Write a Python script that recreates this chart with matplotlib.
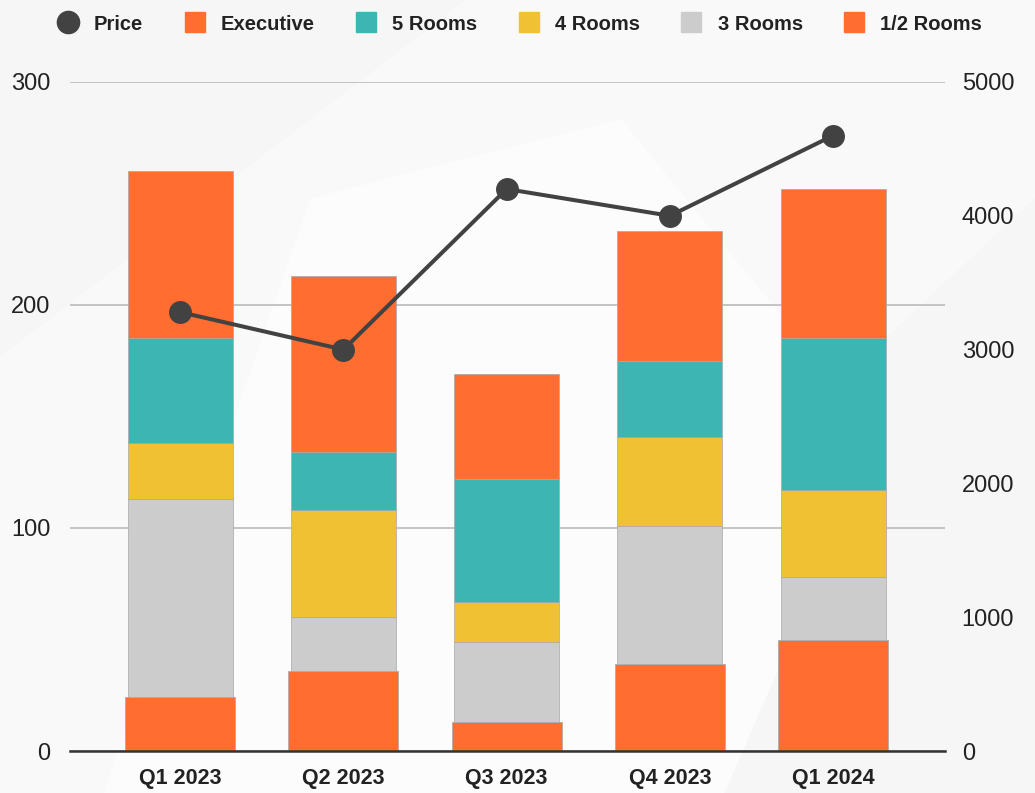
import matplotlib
matplotlib.use("Agg")
import matplotlib.pyplot as plt
import numpy as np
from matplotlib.lines import Line2D
from matplotlib.patches import Polygon

plt.rcParams['font.family'] = ['Liberation Sans', 'DejaVu Sans']

quarters = ["Q1 2023", "Q2 2023", "Q3 2023", "Q4 2023", "Q1 2024"]
half_rooms = [24, 36, 13, 39, 50]
three_rooms = [89, 24, 36, 62, 28]
four_rooms = [25, 48, 18, 40, 39]
five_rooms = [47, 26, 55, 34, 68]
executive = [75, 79, 47, 58, 67]
price = [3280, 3000, 4200, 4000, 4600]

c_orange = "#FF6D31"
c_teal = "#3DB5B2"
c_yellow = "#F0C233"
c_grey = "#CCCCCC"
c_line = "#424242"

fig = plt.figure(figsize=(10.35, 7.93), dpi=100)
fig.patch.set_facecolor("#F6F6F6")
# subtle background shapes
for pts, col in [
    ([(0.0, 0.55), (0.45, 1.0), (1.0, 1.0), (1.0, 0.75), (0.55, 0.2), (0.2, 0.0), (0.0, 0.0)], "#F9F9F9"),
    ([(0.1, 0.0), (0.3, 0.75), (0.6, 0.85), (0.85, 0.45), (0.7, 0.0)], "#FCFCFC"),
]:
    fig.patches.append(Polygon(pts, closed=True, transform=fig.transFigure,
                               facecolor=col, edgecolor="none", zorder=-10))

ax = fig.add_axes([70/1035, 1-751/793, 875/1035, (751-82)/793])
ax.set_facecolor("none")
x = np.arange(len(quarters))

w_main = 0.643
w_bottom = 0.674
edge = "#A8A8A8"

bottom = np.zeros(len(quarters))
ax.bar(x, half_rooms, w_bottom, bottom=bottom, color=c_orange, edgecolor=edge, linewidth=0.5, zorder=3)
bottom += np.array(half_rooms)
for vals, col in [(three_rooms, c_grey), (four_rooms, c_yellow), (five_rooms, c_teal), (executive, c_orange)]:
    ax.bar(x, vals, w_main, bottom=bottom, color=col, edgecolor=edge, linewidth=0.5, zorder=3)
    bottom += np.array(vals)

ax.set_ylim(0, 300)
ax.set_yticks([0, 100, 200, 300])
ax.set_xlim(-0.675, 4.685)
ax.set_xticks(x)
ax.set_xticklabels(quarters, fontsize=15.5, fontweight="bold", color="#222222")
ax.tick_params(axis="x", length=0, pad=12)
ax.tick_params(axis="y", length=0, labelsize=17, colors="#222222", pad=14)
ax.grid(axis="y", color="#BBBBBB", linewidth=1.2, zorder=0)
for s in ["top", "right", "left"]:
    ax.spines[s].set_visible(False)
ax.spines["bottom"].set_color("#333333")
ax.spines["bottom"].set_linewidth(1.8)
ax.spines["bottom"].set_zorder(5)

ax2 = ax.twinx()
ax2.set_ylim(0, 5000)
ax2.set_yticks([0, 1000, 2000, 3000, 4000, 5000])
ax2.plot(x, price, color=c_line, linewidth=2.9, marker="o", markersize=15.5, zorder=6)
ax2.tick_params(axis="y", length=0, labelsize=17, colors="#222222", pad=12)
for s in ["top", "right", "left", "bottom"]:
    ax2.spines[s].set_visible(False)

handles = [
    Line2D([], [], color=c_line, marker="o", linestyle="none", markersize=16),
    Line2D([], [], color=c_orange, marker="s", linestyle="none", markersize=15),
    Line2D([], [], color=c_teal, marker="s", linestyle="none", markersize=15),
    Line2D([], [], color=c_yellow, marker="s", linestyle="none", markersize=15),
    Line2D([], [], color=c_grey, marker="s", linestyle="none", markersize=15),
    Line2D([], [], color=c_orange, marker="s", linestyle="none", markersize=15),
]
labels = ["Price", "Executive", "5 Rooms", "4 Rooms", "3 Rooms", "1/2 Rooms"]
leg = fig.legend(handles, labels, loc="center", bbox_to_anchor=(520/1035, 1-24/793), ncol=6,
                 frameon=False, prop={"weight": "bold", "size": 14.5}, handletextpad=0.8,
                 columnspacing=2.05, handlelength=1.0)
for t in leg.get_texts():
    t.set_color("#222222")

fig.savefig("out.png", dpi=100, facecolor=fig.get_facecolor())
